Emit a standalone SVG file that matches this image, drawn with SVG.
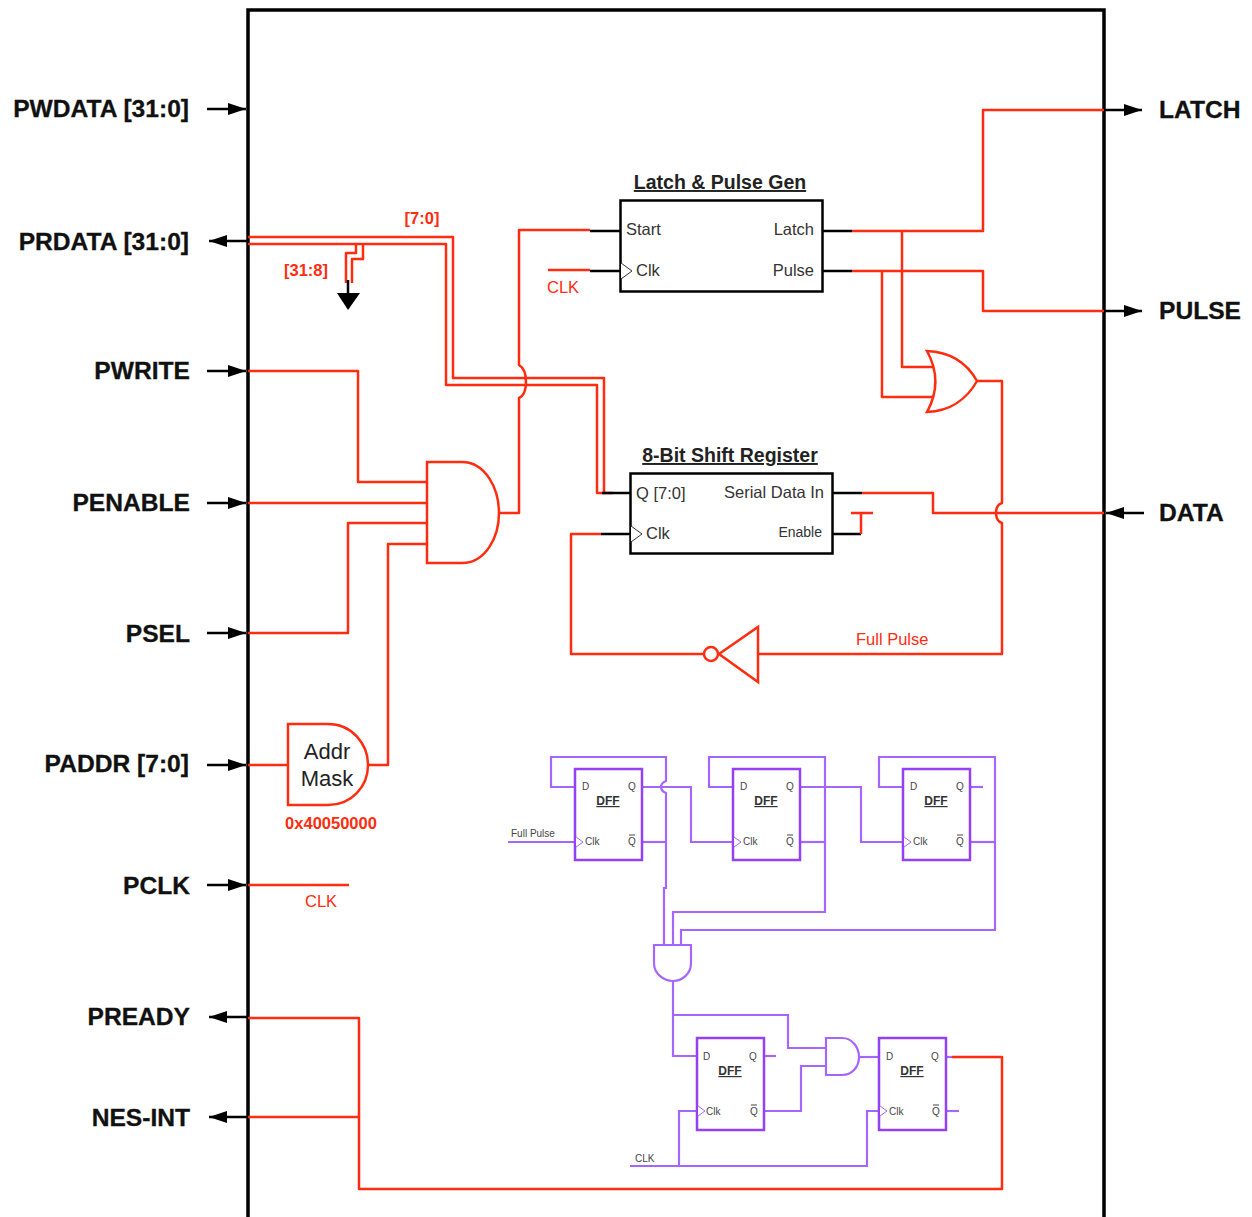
<svg xmlns="http://www.w3.org/2000/svg" width="1252" height="1217" viewBox="0 0 1252 1217">
<defs><marker id="ah" markerWidth="20" markerHeight="14" refX="18" refY="6" orient="auto" markerUnits="userSpaceOnUse"><path d="M0,0L18,6L0,12Z" fill="#000"/></marker></defs>
<style>
text{font-family:"Liberation Sans",Arial,sans-serif}
.io{font-size:24.600px;font-weight:bold;fill:#111;stroke:#111;stroke-width:.3px}
.lab{font-size:16.500px;fill:#333}
.t{font-size:19.500px;font-weight:bold;text-decoration:underline;fill:#222}
.rt{font-size:16.500px;fill:#ff2d10}
.rb{font-size:16.500px;font-weight:bold;fill:#ff2d10}
.sm{font-size:10px;fill:#444}
.dt{font-size:12px;font-weight:bold;text-decoration:underline;fill:#333}
.k{fill:none;stroke:#000;stroke-width:2.5}
.r{fill:none;stroke:#ff2d10;stroke-width:2.5;stroke-linejoin:round}
.rg{fill:#fff;stroke:#ff2d10;stroke-width:2.5}
.p{fill:none;stroke:#a566ff;stroke-width:2.2}
.pb{fill:#fff;stroke:#9440f5;stroke-width:2.5}
.pg{fill:#fff;stroke:#a566ff;stroke-width:2.2}
.arr{fill:none;stroke:#000;stroke-width:2.5;marker-end:url(#ah)}
</style>
<path class="k" d="M248,1217V10H1104V1217" style="stroke-width:3.5"/>
<g id="connectors">
<path class="arr" d="M207,109H246"/><path class="arr" d="M248,241H209"/><path class="arr" d="M207,371H246"/><path class="arr" d="M207,503H246"/><path class="arr" d="M207,633H246"/><path class="arr" d="M207,765H246"/><path class="arr" d="M207,885H246"/><path class="arr" d="M248,1017H209"/><path class="arr" d="M248,1117H209"/><path class="arr" d="M1104,110H1142"/><path class="arr" d="M1104,311H1142"/><path class="arr" d="M1144,513H1106"/>
<path class="r" d="M248,237H453V378H604V493H613"/>
<path class="r" d="M248,244H446V385H597V493H604"/>
<path class="r" d="M363,245V259H352V283M356,245V253H346V283"/>
<path class="k" d="M348,280V296"/><path d="M337,293H360L348,310Z" fill="#000"/>
<path class="r" d="M590,230H519V365Q526,369 526,382Q526,395 519,398V513H499"/>
<path class="k" d="M590,231H620M590,271H620M822,231H852M822,271H852M602,493H631M601,534H631M832,493H862M832,534H861"/>
<path class="r" d="M548,270H590"/>
<path class="r" d="M852,231H983V110H1104"/><path class="r" d="M852,271H983V311H1104"/>
<path class="r" d="M902,231V367H935"/><path class="r" d="M882,271V397H935"/>
<path class="r" d="M977,381H1002V503Q996,505 996,513Q996,521 1002,523V654H758"/>
<path class="r" d="M862,493H933V513H1104"/>
<path class="r" d="M851,513H873M861,513V534"/>
<path class="r" d="M703,654H571V534H601"/>
<path class="r" d="M248,371H358V482H427"/><path class="r" d="M248,503H427"/><path class="r" d="M248,633H348V523H427"/>
<path class="r" d="M248,765H288M368,765H388V544H427"/>
<path class="r" d="M248,885H349"/>
<path class="r" d="M248,1018H359V1189H1002V1057H952"/><path class="r" d="M248,1117H359"/>
<path class="p" d="M574,787H551V757H666V781Q661,783 661,787Q661,791 666,793V888H664V960"/>
<path class="p" d="M642,787H691V842H733"/>
<path class="p" d="M642,842H666"/><path class="p" d="M508,842H575"/>
<path class="p" d="M733,787H709V757H825V912H673V960"/>
<path class="p" d="M801,787H861V842H903"/><path class="p" d="M801,842H825"/>
<path class="p" d="M903,787H879V757H995V930H681V960"/>
<path class="p" d="M971,787H983"/><path class="p" d="M971,842H995"/>
<path class="p" d="M673,981V1056H697"/>
<path class="p" d="M673,1015H788V1048H826"/>
<path class="p" d="M765,1111H801V1066H826"/>
<path class="p" d="M859,1057H879"/>
<path class="p" d="M947,1111H959"/><path class="p" d="M765,1056H776"/><path class="p" d="M946,1057H952"/>
<path class="p" d="M630,1166H867V1111H879"/><path class="p" d="M679,1166V1111H697"/>
</g>
<g id="latch-pulse"><rect class="k" x="620.500" y="200.500" width="202" height="91" style="fill:#fff"/><path d="M621,263L632,271L621,279" fill="#fff" stroke="#333" stroke-width="1"/><text class="t" x="720" y="189" text-anchor="middle">Latch &amp; Pulse Gen</text><text class="lab" x="626" y="235">Start</text><text class="lab" x="636" y="276">Clk</text><text class="lab" x="814" y="235" text-anchor="end">Latch</text><text class="lab" x="814" y="276" text-anchor="end">Pulse</text></g>
<g id="shift-register"><rect class="k" x="630.500" y="473.500" width="202" height="80" style="fill:#fff"/><path d="M631,526L642,534L631,542" fill="#fff" stroke="#333" stroke-width="1"/><text class="t" x="730" y="462" text-anchor="middle">8-Bit Shift Register</text><text class="lab" x="636" y="499">Q [7:0]</text><text class="lab" x="646" y="539">Clk</text><text class="lab" x="824" y="498" text-anchor="end">Serial Data In</text><text x="822" y="537" text-anchor="end" style="font-size:14px;fill:#333">Enable</text></g>
<g id="and-main"><path class="rg" d="M427,462H462C485,462 499,488 499,513C499,538 485,563 462,563H427Z"/></g>
<g id="or-gate"><path class="rg" d="M927,351C950,352 967,363 977,381C967,399 950,411 927,412C938,392 938,371 927,351Z"/></g>
<g id="inverter"><path class="rg" d="M758,627V682L719,654Z"/><circle class="rg" cx="711" cy="654" r="7"/></g>
<g id="addr-mask"><path class="rg" d="M288,724H328C352,724 368,744 368,765C368,786 352,805 328,805H288Z"/><text x="327" y="759" text-anchor="middle" style="font-size:22px;fill:#222">Addr</text><text x="327" y="786" text-anchor="middle" style="font-size:22px;fill:#222">Mask</text><text class="rb" x="331" y="829" text-anchor="middle">0x40050000</text></g>
<g id="dff1"><rect class="pb" x="575" y="769" width="67" height="91"/><path d="M576,837L583,842L576,847" fill="#fff" stroke="#a566ff"/><text class="sm" x="582" y="790">D</text><text class="sm" x="628" y="790">Q</text><text class="dt" x="608" y="805" text-anchor="middle">DFF</text><text class="sm" x="585" y="845">Clk</text><text class="sm" x="628" y="845">Q</text><path d="M629,835H635" stroke="#444"/></g>
<g id="dff2"><rect class="pb" x="733" y="769" width="67" height="91"/><path d="M734,837L741,842L734,847" fill="#fff" stroke="#a566ff"/><text class="sm" x="740" y="790">D</text><text class="sm" x="786" y="790">Q</text><text class="dt" x="766" y="805" text-anchor="middle">DFF</text><text class="sm" x="743" y="845">Clk</text><text class="sm" x="786" y="845">Q</text><path d="M787,835H793" stroke="#444"/></g>
<g id="dff3"><rect class="pb" x="903" y="769" width="67" height="91"/><path d="M904,837L911,842L904,847" fill="#fff" stroke="#a566ff"/><text class="sm" x="910" y="790">D</text><text class="sm" x="956" y="790">Q</text><text class="dt" x="936" y="805" text-anchor="middle">DFF</text><text class="sm" x="913" y="845">Clk</text><text class="sm" x="956" y="845">Q</text><path d="M957,835H963" stroke="#444"/></g>
<g id="dff4"><rect class="pb" x="697" y="1038" width="67" height="92"/><path d="M698,1106L705,1111L698,1116" fill="#fff" stroke="#a566ff"/><text class="sm" x="703" y="1060">D</text><text class="sm" x="749" y="1060">Q</text><text class="dt" x="730" y="1075" text-anchor="middle">DFF</text><text class="sm" x="706" y="1115">Clk</text><text class="sm" x="750" y="1115">Q</text><path d="M751,1105H757" stroke="#444"/></g>
<g id="dff5"><rect class="pb" x="879" y="1038" width="67" height="92"/><path d="M880,1106L887,1111L880,1116" fill="#fff" stroke="#a566ff"/><text class="sm" x="886" y="1060">D</text><text class="sm" x="931" y="1060">Q</text><text class="dt" x="912" y="1075" text-anchor="middle">DFF</text><text class="sm" x="889" y="1115">Clk</text><text class="sm" x="932" y="1115">Q</text><path d="M933,1105H939" stroke="#444"/></g>
<g id="and-3"><path class="pg" d="M654,945H691V963C691,974 682,981 673,981C664,981 654,974 654,963Z"/></g>
<g id="and-2"><path class="pg" d="M826,1038H842C852,1038 859,1047 859,1057C859,1067 852,1075 842,1075H826Z"/></g>
<g id="labels">
<text class="io" x="189" y="117" text-anchor="end">PWDATA [31:0]</text><text class="io" x="189" y="250" text-anchor="end">PRDATA [31:0]</text><text class="io" x="190" y="379" text-anchor="end">PWRITE</text><text class="io" x="190" y="511" text-anchor="end">PENABLE</text><text class="io" x="190" y="642" text-anchor="end">PSEL</text><text class="io" x="189" y="772" text-anchor="end">PADDR [7:0]</text><text class="io" x="190" y="894" text-anchor="end">PCLK</text><text class="io" x="190" y="1025" text-anchor="end">PREADY</text><text class="io" x="190" y="1126" text-anchor="end">NES-INT</text>
<text class="io" x="1159" y="118">LATCH</text><text class="io" x="1159" y="319">PULSE</text><text class="io" x="1159" y="521">DATA</text>
<text class="rb" x="422" y="224" text-anchor="middle">[7:0]</text><text class="rb" x="306" y="276" text-anchor="middle">[31:8]</text>
<text class="rt" x="547" y="293">CLK</text><text class="rt" x="305" y="907">CLK</text><text class="rt" x="856" y="645">Full Pulse</text>
<text class="sm" x="511" y="837">Full Pulse</text><text class="sm" x="635" y="1162">CLK</text>
</g>
</svg>
